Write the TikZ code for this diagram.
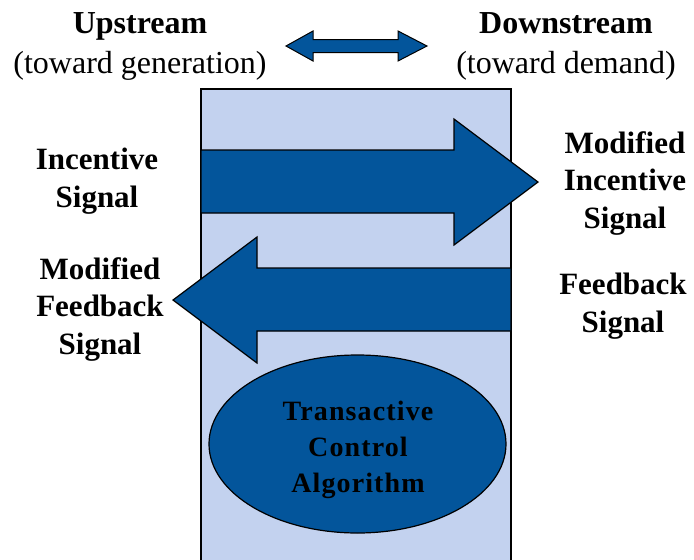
\documentclass[tikz,border=0pt]{standalone}
\usepackage{fontspec}
\setmainfont{Liberation Serif}
\newfontfamily\spacedserif[LetterSpace=4]{Liberation Serif}
\usetikzlibrary{shapes.geometric}
\definecolor{boxblue}{HTML}{C3D2EF}
\definecolor{darkblue}{HTML}{03559B}
\begin{document}
\begin{tikzpicture}[x=1pt,y=-1pt,
  lbl/.style={font=\fontsize{31}{37.5}\selectfont\bfseries, align=center, inner sep=0pt, anchor=base},
  toplbl/.style={font=\fontsize{32}{40}\selectfont, align=center, inner sep=0pt, anchor=base},
  bigarrow/.style={fill=darkblue, draw=black, line width=1.2pt, line join=miter},
  algo/.style={ellipse, draw=black, line width=1.2pt, fill=darkblue, minimum width=297pt, minimum height=178pt, inner sep=0pt},
  algotext/.style={font=\spacedserif\fontsize{28}{36}\selectfont\bfseries, align=center, text=black, inner sep=0pt, anchor=base}]
\useasboundingbox (0,0) rectangle (694,560);
% panel
\fill[boxblue] (201,89) rectangle (511,563);
\draw[line width=1.5pt] (201,563) -- (201,89) -- (511,89) -- (511,563);
% double arrow
\draw[bigarrow, line width=1pt] (286,46) -- (313,31) -- (313,39.5) -- (398,39.5) -- (398,31) -- (427,46)
  -- (398,61) -- (398,52.5) -- (313,52.5) -- (313,61) -- cycle;
% right arrow
\draw[bigarrow] (201,150) -- (454,150) -- (454,119) -- (538,182) -- (454,245) -- (454,213) -- (201,213) -- cycle;
% left arrow
\draw[bigarrow] (511,268) -- (257,268) -- (257,237) -- (173,300) -- (257,363) -- (257,331) -- (511,331) -- cycle;
% ellipse
\node[algo] (tca) at (357.5,444) {};
\node[algotext] (tcatext) at (358,492) {Transactive\\Control\\Algorithm};
% labels
\node[toplbl] (up) at (140,73) {\textbf{Upstream}\\(toward generation)};
\node[toplbl] (down) at (566,73) {\textbf{Downstream}\\(toward demand)};
\node[lbl] (inc) at (97,207) {Incentive\\Signal};
\node[lbl] (modfb) at (100,354) {Modified\\Feedback\\Signal};
\node[lbl] (modinc) at (625,228) {Modified\\Incentive\\Signal};
\node[lbl] (fb) at (623,332) {Feedback\\Signal};
\end{tikzpicture}
\end{document}
